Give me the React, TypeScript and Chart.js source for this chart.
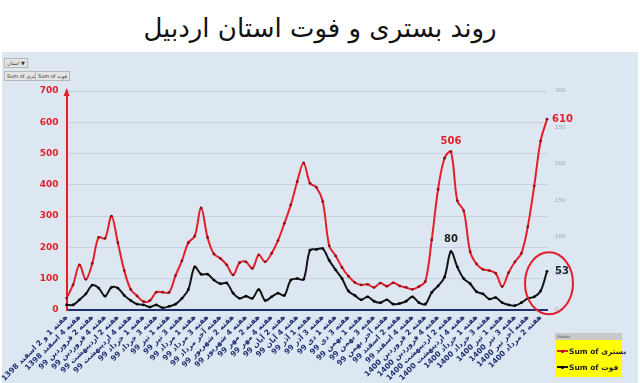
import React, { useEffect, useRef } from "react";
import { Chart, registerables } from "chart.js";

Chart.register(...registerables);

const titleText = "روند بستری و فوت استان اردبیل";

const tickLabels = [
  "هفته 1 و 2 اسفند 1398",
  "هفته 4 اسفند 1398",
  "هفته 2 فروردین 99",
  "هفته 4 فروردین 99",
  "هفته 2 اردیبهشت 99",
  "هفته 4 اردیبهشت 99",
  "هفته 1 خرداد 99",
  "هفته 3 خرداد 99",
  "هفته 1 تیر 99",
  "هفته 3 تیر 99",
  "هفته 1 مرداد 99",
  "هفته 3 مرداد 99",
  "هفته آخر مرداد 99",
  "هفته 2 شهریور 99",
  "هفته 4 شهریور 99",
  "هفته 2 مهر 99",
  "هفته 4 مهر 99",
  "هفته 2 آبان 99",
  "هفته 4 آبان 99",
  "هفته 1 آذر 99",
  "هفته 3 آذر 99",
  "هفته 1 دی 99",
  "هفته 3 دی 99",
  "هفته 1 بهمن 99",
  "هفته 3 بهمن 99",
  "هفته آخر بهمن 99",
  "هفته 2 اسفند 99",
  "هفته 4 اسفند 99",
  "هفته 2 فروردین 1400",
  "هفته 4 فروردین 1400",
  "هفته 2 اردیبهشت 1400",
  "هفته 4 اردیبهشت 1400",
  "هفته 1 خرداد 1400",
  "هفته 3 خرداد 1400",
  "هفته 1 تیر 1400",
  "هفته 3 تیر 1400",
  "هفته آخر تیر 1400",
  "هفته 2 مرداد 1400",
];

// بستری (hospitalized) – left axis
const hospitalized = [
  38, 80, 144, 98, 149, 232, 229, 300, 215, 126,
  66, 45, 27, 30, 57, 57, 56, 110, 157, 215,
  236, 326, 232, 179, 165, 144, 112, 151, 154, 133,
  176, 154, 181, 222, 277, 336, 410, 470, 405, 392,
  346, 205, 173, 136, 108, 88, 80, 82, 72, 86,
  76, 87, 77, 72, 66, 75, 91, 224, 386, 485,
  506, 349, 317, 186, 147, 130, 126, 117, 75, 119,
  154, 181, 266, 396, 540, 610,
];

// فوت (deaths) – right axis
const deaths = [
  7, 7, 14, 22, 34, 30, 19, 31, 30, 20,
  13, 8, 7, 4, 7, 3, 5, 8, 16, 28,
  59, 49, 49, 41, 36, 37, 23, 16, 19, 16,
  28, 13, 18, 23, 20, 41, 43, 42, 82, 83,
  84, 68, 55, 43, 26, 20, 14, 18, 12, 10,
  14, 8, 9, 12, 18, 10, 8, 24, 33, 45,
  80, 59, 43, 36, 25, 22, 15, 17, 10, 7,
  6, 10, 16, 18, 26, 53,
];

const labeledIndices = [60, 75];

const categories = hospitalized.map((_, i) => (i % 2 === 0 ? tickLabels[i / 2] : ""));

const RED = "#e31f2b";
const BLACK = "#151515";
const NAVY = "#1f2f72";
const FONT = "'DejaVu Sans', 'Noto Sans', sans-serif";

const decorPlugin = {
  id: "decor",
  afterDatasetsDraw(chart: any) {
    const ctx = chart.ctx;
    const area = chart.chartArea;
    const redMeta = chart.getDatasetMeta(0);
    const blackMeta = chart.getDatasetMeta(1);
    ctx.save();
    // arrowhead on the left axis
    ctx.fillStyle = RED;
    ctx.beginPath();
    ctx.moveTo(area.left, area.top - 3);
    ctx.lineTo(area.left - 3, area.top + 5);
    ctx.lineTo(area.left + 3, area.top + 5);
    ctx.closePath();
    ctx.fill();

    ctx.textBaseline = "middle";
    // peak labels
    const rp = redMeta.data[labeledIndices[0]];
    const bp = blackMeta.data[labeledIndices[0]];
    ctx.font = `bold 10px ${FONT}`;
    ctx.textAlign = "center";
    ctx.fillStyle = RED;
    ctx.fillText(String(hospitalized[labeledIndices[0]]), rp.x, rp.y - 10);
    ctx.fillStyle = "#222";
    ctx.fillText(String(deaths[labeledIndices[0]]), bp.x, bp.y - 12);

    // end labels
    const rl = redMeta.data[labeledIndices[1]];
    const bl = blackMeta.data[labeledIndices[1]];
    ctx.textAlign = "left";
    ctx.font = `bold 10px ${FONT}`;
    ctx.fillStyle = RED;
    ctx.fillText(String(hospitalized[labeledIndices[1]]), rl.x + 5, rl.y);
    ctx.fillStyle = "#1b2430";
    ctx.fillText(String(deaths[labeledIndices[1]]), bl.x + 8, bl.y);

    // highlight ellipse
    ctx.strokeStyle = RED;
    ctx.lineWidth = 2;
    ctx.beginPath();
    ctx.ellipse(bl.x + 2, bl.y + 12, 24, 31, 0, 0, Math.PI * 2);
    ctx.stroke();
    ctx.restore();
  },
};

export default function App() {
  const canvasRef = useRef<HTMLCanvasElement | null>(null);

  useEffect(() => {
    if (!canvasRef.current) return;
    const chart = new Chart(canvasRef.current, {
      type: "line",
      data: {
        labels: categories,
        datasets: [
          {
            label: "Sum of بستری",
            data: hospitalized,
            borderColor: RED,
            borderWidth: 2,
            pointRadius: 1.4,
            pointBackgroundColor: "#8e1018",
            pointBorderWidth: 0,
            tension: 0.35,
            yAxisID: "y",
          },
          {
            label: "Sum of فوت",
            data: deaths,
            borderColor: BLACK,
            borderWidth: 2,
            pointRadius: 1.4,
            pointBackgroundColor: "#000",
            pointBorderWidth: 0,
            tension: 0.35,
            yAxisID: "y1",
          },
        ],
      },
      options: {
        animation: false,
        responsive: false,
        devicePixelRatio: 1,
        layout: { padding: { top: 39, left: 0, right: 0, bottom: 0 } },
        plugins: {
          legend: { display: false },
          tooltip: { enabled: false },
        },
        scales: {
          x: {
            grid: { display: false, drawTicks: false },
            border: { display: true, color: NAVY, width: 2 },
            ticks: {
              autoSkip: false,
              minRotation: 45,
              maxRotation: 45,
              padding: 3,
              color: NAVY,
              font: { family: FONT, size: 7.5, weight: "bold" },
            },
            afterFit(scale: any) {
              scale.height = 73;
            },
          },
          y: {
            position: "left",
            min: 0,
            max: 700,
            ticks: {
              stepSize: 100,
              padding: 8,
              color: RED,
              font: { family: FONT, size: 9, weight: "bold" },
            },
            grid: { color: "rgba(170,185,205,0.45)", lineWidth: 1, drawTicks: false },
            border: { display: true, color: RED, width: 2 },
            afterFit(scale: any) {
              scale.width = 53;
            },
          },
          y1: {
            position: "right",
            min: 0,
            max: 300,
            ticks: {
              stepSize: 50,
              padding: 8,
              color: "#9aa4b0",
              font: { family: FONT, size: 5.5 },
            },
            grid: { display: false, drawTicks: false },
            border: { display: false },
            afterFit(scale: any) {
              scale.width = 93;
            },
          },
        },
      },
      plugins: [decorPlugin],
    });
    return () => chart.destroy();
  }, []);

  const btn: React.CSSProperties = {
    position: "absolute",
    background: "#e4e4e4",
    border: "1px solid #b8b8b8",
    fontFamily: FONT,
    fontSize: "5px",
    color: "#333",
    lineHeight: "8px",
    padding: "0 2px",
    whiteSpace: "nowrap",
  };

  return (
    <div
      style={{
        position: "fixed",
        left: 0,
        top: 0,
        width: 640,
        height: 383,
        background: "#ffffff",
        overflow: "hidden",
      }}
    >
      <div
        style={{
          position: "absolute",
          left: 0,
          top: 2,
          width: 640,
          height: 52,
          textAlign: "center",
          fontFamily: FONT,
          fontSize: "26px",
          lineHeight: "52px",
          color: "#111",
        }}
      >
        {titleText}
      </div>
      <div
        style={{
          position: "absolute",
          left: 2,
          top: 52,
          width: 636,
          height: 331,
          background: "#dde7f2",
        }}
      />
      <canvas
        ref={canvasRef}
        width={640}
        height={331}
        style={{ position: "absolute", left: 0, top: 52, width: 640, height: 331 }}
      />
      <div style={{ ...btn, left: 4, top: 58 }}>استان ▼</div>
      <div style={{ ...btn, left: 4, top: 71 }}>Sum of بستری</div>
      <div style={{ ...btn, left: 35, top: 71 }}>Sum of فوت</div>
      <div
        style={{
          position: "absolute",
          left: 555,
          top: 333,
          width: 67,
          height: 44,
          fontFamily: FONT,
        }}
      >
        <div
          style={{
            height: 7,
            background: "#c9c9c9",
            fontSize: "4px",
            lineHeight: "7px",
            color: "#555",
            paddingLeft: 2,
          }}
        >
          Values
        </div>
        <div style={{ height: 37, background: "#ffff00", position: "relative" }}>
          {[
            { color: RED, dot: "#8e1018", text: "Sum of بستری", top: 6 },
            { color: BLACK, dot: "#000", text: "Sum of فوت", top: 22 },
          ].map((e) => (
            <div
              key={e.text}
              style={{
                position: "absolute",
                left: 2,
                top: e.top,
                height: 10,
                display: "flex",
                alignItems: "center",
                whiteSpace: "nowrap",
              }}
            >
              <div style={{ position: "relative", width: 11, height: 10, flex: "none" }}>
                <div
                  style={{
                    position: "absolute",
                    left: 0,
                    top: 4,
                    width: 11,
                    height: 2,
                    background: e.color,
                  }}
                />
                <div
                  style={{
                    position: "absolute",
                    left: 4,
                    top: 3.5,
                    width: 3,
                    height: 3,
                    borderRadius: 2,
                    background: e.dot,
                  }}
                />
              </div>
              <span
                style={{
                  fontSize: "7.5px",
                  fontWeight: "bold",
                  color: "#222",
                  marginLeft: 1,
                  whiteSpace: "nowrap",
                  direction: "ltr",
                  unicodeBidi: "embed",
                }}
              >
                {e.text}
              </span>
            </div>
          ))}
        </div>
      </div>
    </div>
  );
}
